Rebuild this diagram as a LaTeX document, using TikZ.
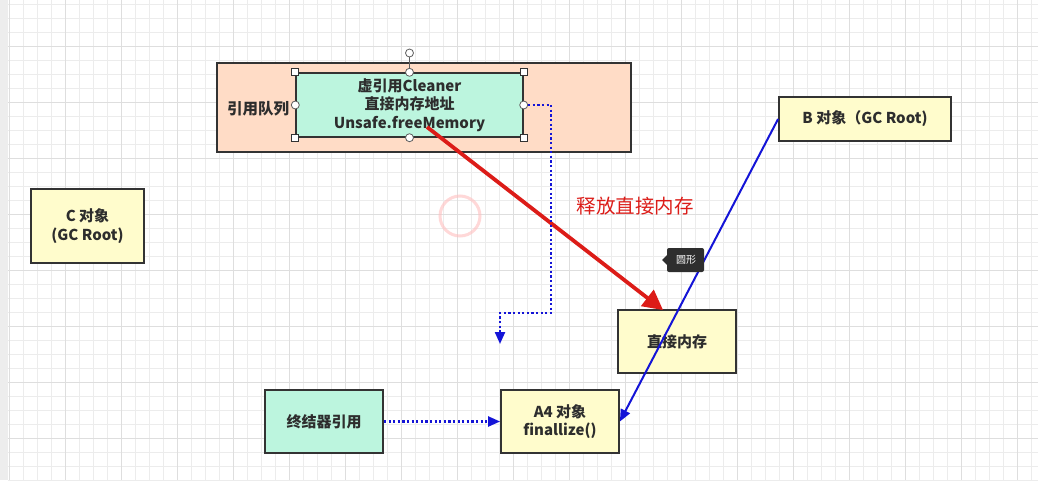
\documentclass[tikz,border=0pt]{standalone}
\usepackage{fontspec}
\setmainfont{Noto Sans CJK SC}
\usetikzlibrary{arrows.meta}
\definecolor{peach}{RGB}{255,220,198}
\definecolor{mint}{RGB}{188,245,222}
\definecolor{lyellow}{RGB}{255,252,204}
\definecolor{bord}{RGB}{51,51,51}
\definecolor{txt}{RGB}{45,45,45}
\definecolor{dblue}{RGB}{20,20,215}
\definecolor{rred}{RGB}{220,28,24}
\definecolor{gminor}{RGB}{236,236,236}
\definecolor{gmajor}{RGB}{222,222,222}
\tikzset{
  box/.style={draw=bord, line width=1.8pt, inner sep=0pt, align=center, text=txt,
    font=\bfseries\fontsize{15}{18.5}\selectfont},
  dotconn/.style={draw=dblue, line width=2.2pt, dash pattern=on 2.2pt off 2.4pt,
    -{Triangle[length=12pt,width=10pt]}},
  solconn/.style={draw=dblue, line width=2pt, -{Triangle[length=12pt,width=10pt]}},
  redconn/.style={draw=rred, line width=3.8pt, -{Triangle[length=20pt,width=20pt]}},
  handlesq/.style={draw=bord, fill=white, line width=0.8pt, minimum size=7pt, inner sep=0pt},
  handleci/.style={circle, draw=bord!80, fill=white, line width=0.8pt, minimum size=8pt, inner sep=0pt},
}
\begin{document}
\begin{tikzpicture}[x=1pt,y=-1pt]
\useasboundingbox (0,0) rectangle (1038,480);
\fill[white] (0,0) rectangle (1038,480);
% grid
\foreach \x in {9,23,...,1037} \draw[gminor, line width=0.8pt] (\x,0) -- (\x,480);
\foreach \y in {4,18,...,480} \draw[gminor, line width=0.8pt] (8,\y) -- (1038,\y);
\foreach \x in {9,65,...,1037} \draw[gmajor, line width=1pt] (\x,0) -- (\x,480);
\foreach \y in {46,102,...,480} \draw[gmajor, line width=1pt] (8,\y) -- (1038,\y);
\fill[black!7] (0,0) rectangle (8,480);

% faint circle artifact
\draw[red!25, line width=3pt, opacity=0.6] (460,216) circle (20);

% queue container
\node[box, fill=peach, minimum width=414pt, minimum height=89pt] (queue) at (424,107.5) {};
\node[font=\bfseries\fontsize{15.5}{18}\selectfont, text=txt] (qlabel) at (258,109) {引用队列};
\node[box, fill=mint, line width=1.4pt, minimum width=227pt, minimum height=64pt] (cleaner) at (409.5,105)
  {虚引用Cleaner\\直接内存地址\\Unsafe.freeMemory};

% selection handles
\draw[bord!80, line width=0.8pt] (409.5,53) -- (cleaner.north);
\node[handleci] (rot) at (409.5,53) {};
\node[handlesq] (h1) at (cleaner.north west) {};
\node[handlesq] (h2) at (cleaner.north east) {};
\node[handlesq] (h3) at (cleaner.south west) {};
\node[handlesq] (h4) at (cleaner.south east) {};
\node[handleci] (h5) at (cleaner.north) {};
\node[handleci] (h6) at (cleaner.south) {};
\node[handleci] (h7) at (cleaner.west) {};
\node[handleci] (h8) at (cleaner.east) {};

% other boxes
\node[box, fill=lyellow, minimum width=113pt, minimum height=74pt] (C) at (87.5,226) {C 对象\\(GC Root)};
\node[box, fill=lyellow, minimum width=172pt, minimum height=44pt] (B) at (865,119) {B 对象（GC Root)};
\node[box, fill=lyellow, minimum width=118pt, minimum height=63pt] (mem) at (677,341.5) {直接内存};
\node[box, fill=lyellow, minimum width=118pt, minimum height=63pt] (A4) at (560,421.5) {A4 对象\\finallize()};
\node[box, fill=mint, minimum width=118pt, minimum height=63pt] (fin) at (324,421.5) {终结器引用};

% red label
\node[text=rred, font=\fontsize{19.5}{22}\selectfont] (redlabel) at (635,206) {释放直接内存};

% connectors
\coordinate (redstart) at (427,127);
\path (mem.north west) ++(46,1) coordinate (redend);
\draw[redconn] (redstart) -- (redend);

\coordinate (dotend) at (500,344);
\draw[dotconn] (h8) -- (551,105) -- (551,313) -- (500,313) -- (dotend);
\draw[dotconn] (fin.east) -- (A4.west);
\draw[solconn] (B.west) -- (A4.east);

% tooltip artifact
\fill[black!82] (662,260) -- (667,255) -- (667,250) arc[start angle=180,end angle=270,radius=2] -- (702,248)
  arc[start angle=270,end angle=360,radius=2] -- (704,270) arc[start angle=0,end angle=90,radius=2]
  -- (669,272) arc[start angle=90,end angle=180,radius=2] -- (667,265) -- cycle;
\node[text=white, font=\fontsize{10}{12}\selectfont] (tip) at (686,260) {圆形};
\end{tikzpicture}
\end{document}
